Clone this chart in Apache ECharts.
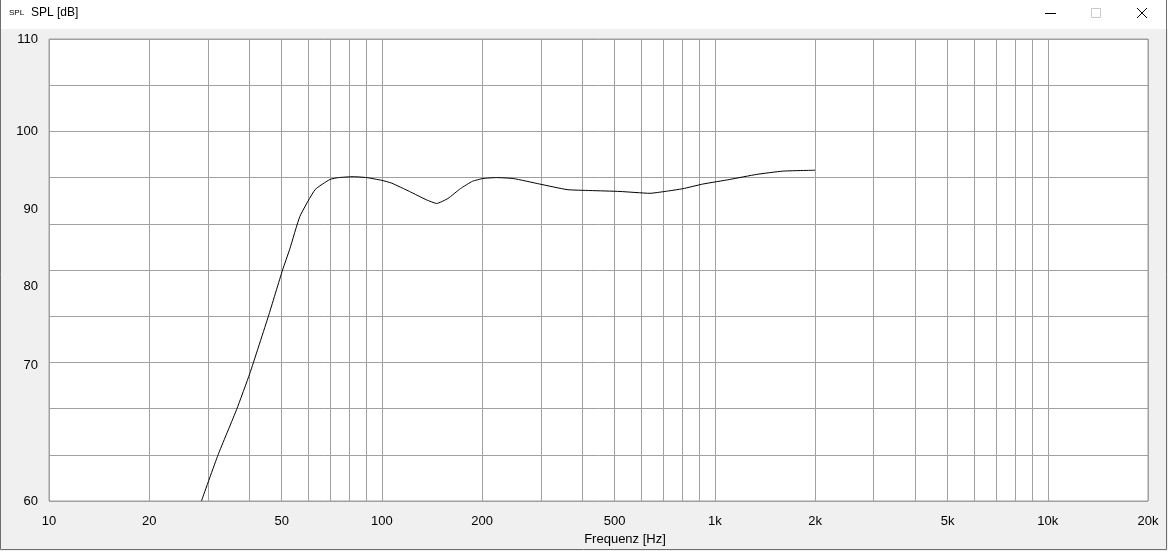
<!DOCTYPE html>
<html>
<head>
<meta charset="utf-8">
<title>SPL [dB]</title>
<script src="https://cdn.jsdelivr.net/npm/echarts@6.0.0/dist/echarts.min.js"></script>
<style>
  html, body { margin: 0; padding: 0; background: #f0f0f0; }
  #chart { width: 1168px; height: 551px; }
</style>
</head>
<body>
<div id="chart"></div>
<script>
// Frequenzgang
const freq = [28.7, 32.2, 36.6, 40.1, 45.6, 50.3, 52.9, 56.7, 63, 69.8, 74, 82, 90, 100, 107, 121, 136, 146, 158, 172, 187, 201, 221, 248, 298, 360, 422, 519, 638, 708, 802, 920, 1109, 1337, 1600, 2000]
const spl = [60, 65, 69.9, 73.8, 80, 85, 87.3, 90.8, 93.7, 94.8, 95, 95.1, 95, 94.7, 94.4, 93.5, 92.6, 92.2, 92.75, 93.8, 94.6, 94.9, 95, 94.9, 94.3, 93.7, 93.6, 93.5, 93.3, 93.5, 93.8, 94.3, 94.8, 95.35, 95.7, 95.8]

// Rasterlinien und Beschriftung der Frequenzachse
const xGridAt = [10, 20, 30, 40, 50, 60, 70, 80, 90, 100, 200, 300, 400, 500, 600, 700, 800, 900, 1000, 2000, 3000, 4000, 5000, 6000, 7000, 8000, 9000, 10000, 20000]
const xLabelAt = [10, 20, 50, 100, 200, 500, 1000, 2000, 5000, 10000, 20000]
// die dB-Beschriftung sitzt im Original nicht genau auf den Rasterlinien
const yLabelAt = [110, 100, 91.6, 83.2, 74.7, 60]
const yLabelText = ['110', '100', '90', '80', '70', '60']

const font = 'Liberation Sans, Arial, sans-serif'
const gridColor = '#a0a0a0'

const chart = echarts.init(document.getElementById('chart'))

chart.setOption({
  backgroundColor: '#f0f0f0',
  animation: false,
  grid: {
    left: 49,
    right: 20,
    top: 39,
    bottom: 50,
    show: true,
    backgroundColor: '#fff',
    borderColor: gridColor,
    borderWidth: 1,
    containLabel: false,
    outerBoundsMode: 'none',
  },
  xAxis: {
    type: 'log',
    logBase: 10,
    min: 10,
    max: 20000,
    name: 'Frequenz [Hz]',
    nameLocation: 'middle',
    nameGap: 30,
    nameTextStyle: { color: '#000', fontFamily: font, fontSize: 13, padding: [0, 0, 0, 53] },
    axisLine: { show: false },
    axisTick: { show: false, customValues: xGridAt },
    axisLabel: {
      customValues: xLabelAt,
      color: '#000',
      fontFamily: font,
      fontSize: 13,
      margin: 14,
      formatter: v => (v >= 1000 ? v / 1000 + 'k' : String(v)),
    },
    splitLine: { show: true, lineStyle: { color: gridColor, width: 1 } },
  },
  yAxis: {
    type: 'value',
    min: 60,
    max: 110,
    interval: 5,
    axisLine: { show: false },
    axisTick: { show: false },
    axisLabel: {
      customValues: yLabelAt,
      color: '#000',
      fontFamily: font,
      fontSize: 13,
      margin: 11,
      formatter: v => yLabelText[yLabelAt.indexOf(v)],
    },
    splitLine: { show: true, lineStyle: { color: gridColor, width: 1 } },
  },
  series: [
    {
      name: 'SPL',
      type: 'line',
      data: freq.map((f, i) => [f, spl[i]]),
      smooth: 0.15,
      showSymbol: false,
      clip: true,
      lineStyle: { color: '#000', width: 1 },
    },
  ],
  graphic: [
    // Titelleiste
    { type: 'rect', left: 0, top: 0, shape: { width: 1168, height: 29 }, style: { fill: '#fff' }, z: -1 },
    { type: 'text', x: 9, y: 13, style: { text: 'SPL', fontFamily: font, fontSize: 8, fill: '#000', verticalAlign: 'middle' } },
    { type: 'text', x: 31, y: 13, style: { text: 'SPL [dB]', fontFamily: font, fontSize: 12, fill: '#000', verticalAlign: 'middle' } },
    // Fensterknöpfe
    { type: 'rect', shape: { x: 1045, y: 13, width: 11, height: 1 }, style: { fill: '#000' } },
    { type: 'rect', shape: { x: 1091.5, y: 8.5, width: 9, height: 9 }, style: { fill: 'none', stroke: '#c8c8c8', lineWidth: 1 } },
    { type: 'line', shape: { x1: 1137, y1: 8, x2: 1147, y2: 18 }, style: { stroke: '#000', lineWidth: 1 } },
    { type: 'line', shape: { x1: 1147, y1: 8, x2: 1137, y2: 18 }, style: { stroke: '#000', lineWidth: 1 } },
    // Fensterrahmen
    { type: 'rect', shape: { x: 0.5, y: -2, width: 1166, height: 551.5 }, style: { fill: 'none', stroke: '#6e6e6e', lineWidth: 1 } },
  ],
})
</script>
</body>
</html>
